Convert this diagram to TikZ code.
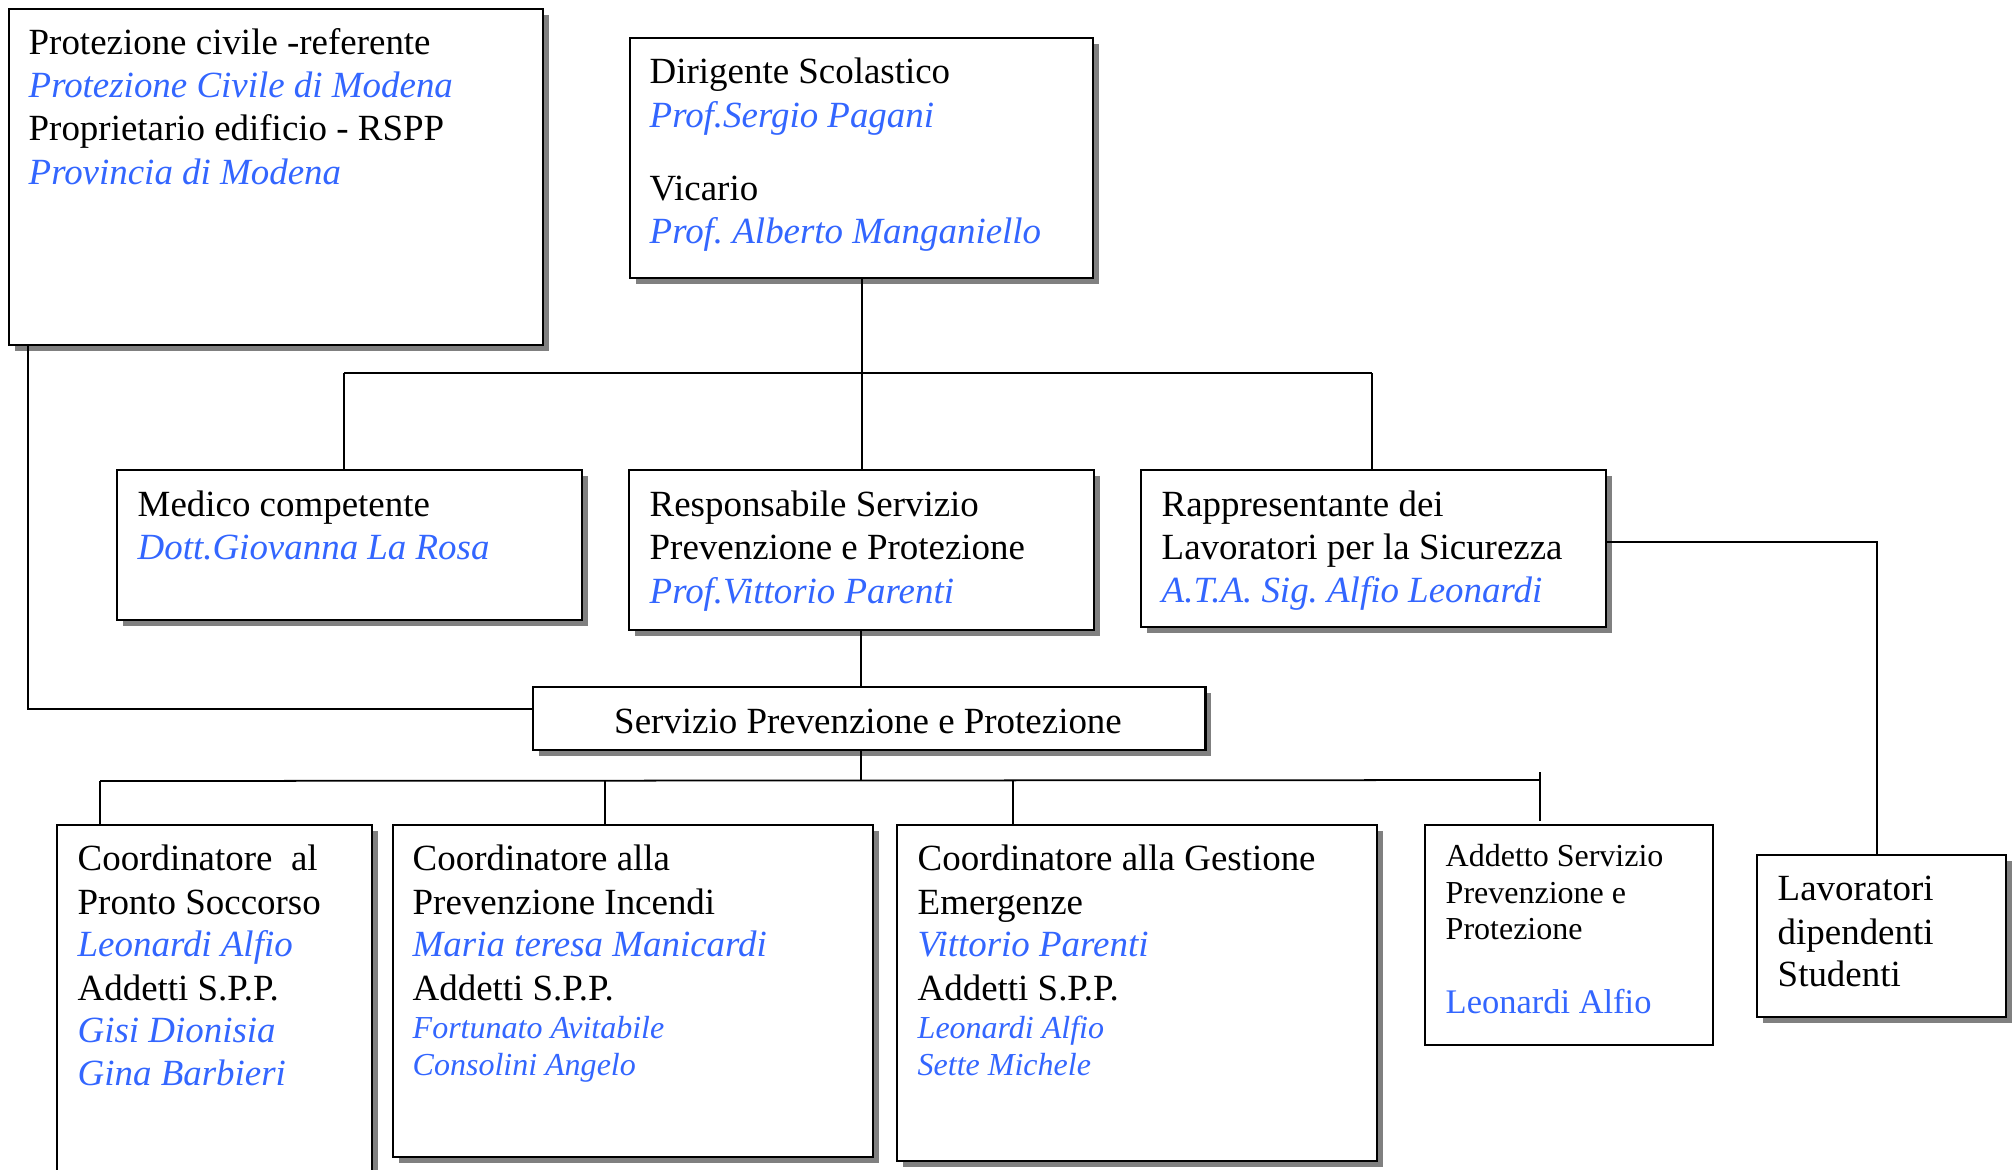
\documentclass[tikz,border=0pt]{standalone}
\usepackage{fontspec}
\setmainfont{Liberation Serif}
\usetikzlibrary{shadows}
\definecolor{nblue}{RGB}{51,102,255}
\definecolor{shgray}{RGB}{128,128,128}
\newcommand\fsN{\fontsize{10.5}{12.6}\selectfont}
\newcommand\fsS{\fontsize{9.1}{11}\selectfont}
\newcommand\fsM{\fontsize{9.8}{11.8}\selectfont}
\frenchspacing
\tikzset{
  boxbase/.style={draw=black, line width=0.6pt, fill=white, inner sep=0pt, anchor=north west},
  sbox/.style={boxbase, drop shadow={shadow xshift=0.55mm, shadow yshift=-0.55mm, fill=shgray, opacity=1}},
  pbox/.style={boxbase},
  conn/.style={draw=black, line width=0.5pt},
  txt/.style={anchor=base west, inner sep=0pt, font=\fsN, text=black, yshift=-0.025cm},
  nm/.style={txt, font=\fsN\itshape, text=nblue},
  stxt/.style={txt, font=\fsS},
  snm/.style={txt, font=\fsS\itshape, text=nblue},
}
\begin{document}
\begin{tikzpicture}[x=0.01cm, y=-0.01cm]
\useasboundingbox (0,0) rectangle (2015,1170);
\clip (0,0) rectangle (2015,1170);
\fill[white] (0,0) rectangle (2015,1170);

% boxes
\node[sbox, minimum width=5.34cm, minimum height=3.36cm] (A) at (8,8) {};
\node[sbox, minimum width=4.63cm, minimum height=2.40cm] (B) at (629,37) {};
\node[sbox, minimum width=4.65cm, minimum height=1.50cm] (C) at (116,469) {};
\node[sbox, minimum width=4.65cm, minimum height=1.60cm] (D) at (628,469) {};
\node[sbox, minimum width=4.65cm, minimum height=1.57cm] (E) at (1140,469) {};
\node[sbox, minimum width=6.72cm, minimum height=0.63cm] (F) at (532,686) {};
\node[sbox, minimum width=3.15cm, minimum height=3.80cm] (G) at (56,824) {};
\node[sbox, minimum width=4.80cm, minimum height=3.32cm] (H) at (392,824) {};
\node[sbox, minimum width=4.80cm, minimum height=3.36cm] (I) at (896,824) {};
\node[pbox, minimum width=2.88cm, minimum height=2.20cm] (J) at (1424,824) {};
\node[sbox, minimum width=2.49cm, minimum height=1.62cm] (K) at (1756,854) {};

% connector coordinates
\coordinate (tb1) at (344,373);
\coordinate (tb3) at (1372,373);
\coordinate (bb0) at (861,780);
\coordinate (bb1) at (100,781);
\coordinate (bb2) at (605,780);
\coordinate (bb3) at (1013,780);
\coordinate (bb4) at (1540,780);
\coordinate (bb4t) at (1540,772);
\coordinate (ac) at (28,709);
\coordinate (ek) at (1877,542);

% connectors
\draw[conn] (B.south) -- (B.south |- D.north);
\draw[conn] (tb1) -- (tb3);
\draw[conn] (tb1) -- (tb1 |- C.north);
\draw[conn] (tb3) -- (tb3 |- E.north);
\draw[conn] (A.south -| ac) -- (ac) -- (ac -| F.west);
\draw[conn] (E.east |- ek) -- (ek) -- (ek |- K.north);
\draw[conn] (D.south -| bb0) -- (F.north -| bb0);
\draw[conn] (F.south -| bb0) -- (bb0);
\draw[conn] (bb1) -- (bb4);
\draw[conn] (bb1) -- (bb1 |- G.north);
\draw[conn] (bb2) -- (bb2 |- H.north);
\draw[conn] (bb3) -- (bb3 |- I.north);
\draw[conn] (bb4t) -- ([yshift=0.03cm]bb4t |- J.north);

% texts box A
\node[txt] (a1) at (28,52) {Protezione civile -referente};
\node[nm]  (a2) at (28,95) {Protezione Civile di Modena};
\node[txt] (a3) at (28,138) {Proprietario edificio - RSPP};
\node[nm]  (a4) at (28,182) {Provincia di Modena};
% box B
\node[txt] (b1) at (649,81) {Dirigente Scolastico};
\node[nm]  (b2) at (649,125) {Prof.Sergio Pagani};
\node[txt] (b3) at (649,198) {Vicario};
\node[nm]  (b4) at (649,241) {Prof. Alberto Manganiello};
% box C
\node[txt] (c1) at (137,514) {Medico competente};
\node[nm]  (c2) at (137,557) {Dott.Giovanna La Rosa};
% box D
\node[txt] (d1) at (649,514) {Responsabile Servizio};
\node[txt] (d2) at (649,557) {Prevenzione e Protezione};
\node[nm]  (d3) at (649,601) {Prof.Vittorio Parenti};
% box E
\node[txt] (e1) at (1161,514) {Rappresentante dei};
\node[txt] (e2) at (1161,557) {Lavoratori per la Sicurezza};
\node[nm]  (e3) at (1161,600) {A.T.A. Sig. Alfio Leonardi};
% box F
\node[txt, anchor=base] (f1) at (868,731) {Servizio Prevenzione e Protezione};
% box G
\node[txt] (g1) at (77,868) {Coordinatore\ \ al};
\node[txt] (g2) at (77,912) {Pronto Soccorso};
\node[nm]  (g3) at (77,954) {Leonardi Alfio};
\node[txt] (g4) at (77,998) {Addetti S.P.P.};
\node[nm]  (g5) at (77,1040) {Gisi Dionisia};
\node[nm]  (g6) at (77,1083) {Gina Barbieri};
% box H
\node[txt] (h1) at (412,868) {Coordinatore alla};
\node[txt] (h2) at (412,912) {Prevenzione Incendi};
\node[nm]  (h3) at (412,954) {Maria teresa Manicardi};
\node[txt] (h4) at (412,998) {Addetti S.P.P.};
\node[snm] (h5) at (412,1036) {Fortunato Avitabile};
\node[snm] (h6) at (412,1073) {Consolini Angelo};
% box I
\node[txt] (i1) at (917,868) {Coordinatore alla Gestione};
\node[txt] (i2) at (917,912) {Emergenze};
\node[nm]  (i3) at (917,954) {Vittorio Parenti};
\node[txt] (i4) at (917,998) {Addetti S.P.P.};
\node[snm] (i5) at (917,1036) {Leonardi Alfio};
\node[snm] (i6) at (917,1073) {Sette Michele};
% box J
\node[stxt] (j1) at (1445,864) {Addetto Servizio};
\node[stxt] (j2) at (1445,901) {Prevenzione e};
\node[stxt] (j3) at (1445,937) {Protezione};
\node[txt, font=\fsM, text=nblue] (j4) at (1445,1011) {Leonardi Alfio};
% box K
\node[txt] (k1) at (1777,898) {Lavoratori};
\node[txt] (k2) at (1777,942) {dipendenti};
\node[txt] (k3) at (1777,984) {Studenti};
\end{tikzpicture}
\end{document}
